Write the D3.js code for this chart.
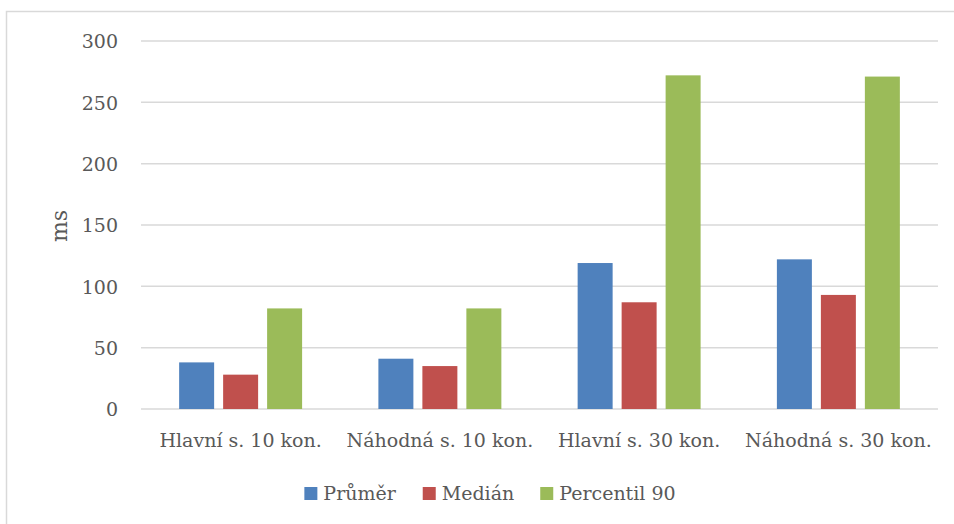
<!DOCTYPE html>
<meta charset="utf-8">
<style>
body { margin: 0; background: #fff; }
text {
  font-family: "DejaVu Serif", serif;
  font-size: 19px;
  fill: #595959;
}
.grid line { stroke: #d9d9d9; stroke-width: 1.5px; }
</style>
<body>
<svg width="954" height="524"></svg>
<script src="https://d3js.org/d3.v7.min.js"></script>
<script>

var categories = ["Hlavní s. 10 kon.", "Náhodná s. 10 kon.", "Hlavní s. 30 kon.", "Náhodná s. 30 kon."];
var seriesNames = ["Průměr", "Medián", "Percentil 90"];
var prumer = [38, 41, 119, 122];
var median = [28, 35, 87, 93];
var percentil90 = [82, 82, 272, 271];
var yTicks = [0, 50, 100, 150, 200, 250, 300];
var colors = ["#4f81bd", "#c0504d", "#9bbb59"];

var values = [prumer, median, percentil90];

var svg = d3.select("svg");

// chart frame
svg.append("rect")
    .attr("x", 6.5).attr("y", 11.5)
    .attr("width", 960).attr("height", 540)
    .attr("fill", "none")
    .attr("stroke", "#d9d9d9")
    .attr("stroke-width", 1.5);

var y = d3.scaleLinear().domain([0, 300]).range([409, 41]);

var x0 = d3.scaleBand().domain(categories).range([141, 938]);
var x1 = d3.scaleBand().domain(seriesNames)
    .range([0, x0.bandwidth()])
    .paddingInner(0.2045)
    .paddingOuter(0.867);

// gridlines
svg.append("g")
    .attr("class", "grid")
  .selectAll("line")
  .data(yTicks)
  .enter().append("line")
    .attr("x1", 141).attr("x2", 938)
    .attr("y1", function(d) { return y(d); })
    .attr("y2", function(d) { return y(d); });

// y axis labels
var yAxis = d3.axisLeft(y).tickValues(yTicks).tickSize(0).tickPadding(0);
var gy = svg.append("g")
    .attr("transform", "translate(118,0)")
    .call(yAxis);
gy.select(".domain").remove();
gy.selectAll("text")
    .attr("font-family", null).attr("font-size", null)
    .attr("dy", "0.36em");

// bars
var groups = svg.append("g")
  .selectAll("g")
  .data(seriesNames)
  .enter().append("g")
    .attr("fill", function(d, i) { return colors[i]; });

groups.selectAll("rect")
  .data(function(s, si) {
    return categories.map(function(c, ci) { return {cat: c, s: s, v: values[si][ci]}; });
  })
  .enter().append("rect")
    .attr("x", function(d) { return x0(d.cat) + x1(d.s); })
    .attr("y", function(d) { return y(d.v); })
    .attr("width", x1.bandwidth())
    .attr("height", function(d) { return y(0) - y(d.v); });

// x axis labels
var xAxis = d3.axisBottom(x0).tickSize(0).tickPadding(0);
var gx = svg.append("g")
    .attr("transform", "translate(0,447)")
    .call(xAxis);
gx.select(".domain").remove();
gx.selectAll("text")
    .attr("font-family", null).attr("font-size", null)
    .attr("dy", 0);

// y title
svg.append("text")
    .attr("transform", "translate(60,226) rotate(-90)")
    .attr("text-anchor", "middle")
    .attr("dy", "0.3em")
    .style("font-size", "22px")
    .text("ms");

// legend
var legend = svg.append("g");
var items = legend.selectAll("g")
  .data(seriesNames)
  .enter().append("g");
items.append("rect")
    .attr("width", 13).attr("height", 13)
    .attr("y", -13)
    .attr("fill", function(d, i) { return colors[i]; });
items.append("text")
    .attr("x", 19)
    .attr("y", 0)
    .text(function(d) { return d; });

var offset = 0;
items.each(function() {
  var w = this.getBBox().width;
  d3.select(this).attr("transform", "translate(" + offset + ",0)");
  offset += w + 26;
});
var total = offset - 26;
legend.attr("transform", "translate(" + (490 - total / 2) + ",500)");

</script>
</body>
